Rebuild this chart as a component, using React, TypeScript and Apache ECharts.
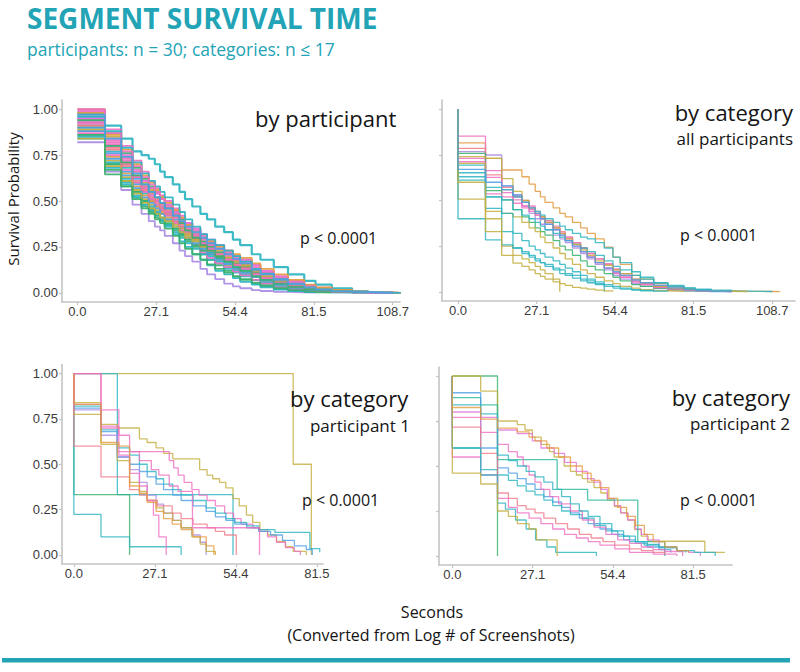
import React, { useEffect, useRef } from "react";
import * as echarts from "echarts";

// ---------- shared scales ----------
const TIMES = [0, 9.5, 15.1, 19.0, 22.1, 24.6, 26.7, 28.5, 30.1, 32.9, 35.2, 37.1, 39.6, 42.4, 44.7, 47.5, 50.6, 53.6, 56.1, 60.1, 63.1, 67.7, 72.6, 78.2, 82.1, 87.7, 94.7, 100.2, 108.8, 111.5];
const X_TICKS_LONG = [0, 27.175, 54.35, 81.525, 108.7];
const X_LABELS_LONG = ["0.0", "27.1", "54.4", "81.5", "108.7"];
const X_TICKS_SHORT = [0, 27.175, 54.35, 81.525];
const X_LABELS_SHORT = ["0.0", "27.1", "54.4", "81.5"];
const Y_TICKS = [0, 0.25, 0.5, 0.75, 1];
const Y_LABELS = ["0.00", "0.25", "0.50", "0.75", "1.00"];

// ---------- panel 1: by participant (survival at TIMES) ----------
const PARTICIPANTS: number[][] = [
  [0.98,0.91,0.84,0.77,0.75,0.73,0.70,0.66,0.63,0.59,0.55,0.51,0.47,0.43,0.40,0.36,0.33,0.29,0.26,0.21,0.18,0.14,0.10,0.065,0.045,0.025,0.01,0.003,0],
  [0.82,0.66,0.56,0.48,0.43,0.39,0.36,0.34,0.31,0.27,0.23,0.20,0.17,0.13,0.10,0.075,0.05,0.035,0.025,0.015,0.01,0.005,0.003,0.001,0],
  [1.0,0.85,0.74,0.66,0.60,0.56,0.52,0.49,0.46,0.42,0.38,0.35,0.31,0.28,0.26,0.23,0.21,0.18,0.16,0.12,0.10,0.075,0.05,0.03,0.02,0.01,0.004,0,0],
  [0.95,0.89,0.80,0.72,0.66,0.61,0.57,0.53,0.50,0.46,0.42,0.38,0.34,0.30,0.27,0.24,0.21,0.18,0.15,0.12,0.09,0.065,0.045,0.028,0.018,0.008,0.003,0],
  [0.90,0.645,0.58,0.52,0.47,0.44,0.41,0.39,0.37,0.34,0.31,0.28,0.25,0.21,0.18,0.15,0.12,0.09,0.07,0.05,0.035,0.02,0.012,0.005,0.002,0],
  [0.96,0.80,0.70,0.62,0.57,0.53,0.50,0.47,0.44,0.40,0.36,0.33,0.29,0.25,0.22,0.19,0.16,0.13,0.11,0.085,0.065,0.045,0.03,0.018,0.01,0.005,0],
  [0.93,0.77,0.68,0.60,0.54,0.50,0.47,0.45,0.42,0.38,0.35,0.32,0.28,0.25,0.22,0.19,0.17,0.14,0.12,0.09,0.07,0.05,0.03,0.02,0.012,0.006,0.002,0,0,0],
  [0.88,0.74,0.65,0.58,0.53,0.50,0.47,0.44,0.41,0.38,0.35,0.32,0.29,0.26,0.24,0.21,0.19,0.16,0.14,0.11,0.09,0.06,0.04,0.025,0.015,0.008,0.003,0],
  [0.92,0.83,0.72,0.64,0.58,0.55,0.52,0.49,0.46,0.43,0.40,0.37,0.33,0.30,0.27,0.24,0.22,0.19,0.17,0.14,0.11,0.08,0.055,0.035,0.022,0.012,0.005,0.001,0],
  [0.86,0.70,0.60,0.53,0.48,0.45,0.42,0.39,0.36,0.32,0.28,0.25,0.21,0.18,0.15,0.12,0.10,0.08,0.06,0.045,0.03,0.018,0.01,0.004,0],
  [0.94,0.79,0.70,0.63,0.58,0.54,0.51,0.48,0.45,0.41,0.37,0.34,0.30,0.27,0.25,0.22,0.20,0.17,0.15,0.12,0.10,0.07,0.05,0.03,0.02,0.01,0.004,0],
  [0.97,0.87,0.76,0.68,0.62,0.58,0.55,0.52,0.48,0.44,0.40,0.36,0.32,0.28,0.25,0.22,0.19,0.16,0.14,0.11,0.085,0.06,0.04,0.025,0.015,0.007,0.002,0,0],
  [0.85,0.68,0.59,0.52,0.48,0.45,0.42,0.40,0.37,0.33,0.30,0.27,0.24,0.21,0.18,0.16,0.13,0.11,0.09,0.07,0.05,0.035,0.02,0.01,0.005,0.002,0],
  [0.99,0.82,0.73,0.66,0.61,0.57,0.54,0.51,0.48,0.45,0.41,0.38,0.35,0.31,0.28,0.26,0.23,0.20,0.18,0.15,0.12,0.09,0.065,0.04,0.028,0.015,0.006,0.002,0,0],
  [0.89,0.72,0.63,0.56,0.51,0.48,0.45,0.43,0.40,0.37,0.34,0.31,0.28,0.24,0.21,0.18,0.15,0.13,0.11,0.085,0.065,0.045,0.03,0.02,0.012,0.006,0.002,0],
  [0.90,0.76,0.66,0.59,0.55,0.51,0.48,0.46,0.43,0.39,0.36,0.33,0.30,0.27,0.24,0.21,0.18,0.15,0.13,0.10,0.08,0.055,0.035,0.02,0.012,0.005,0],
  [0.95,0.84,0.75,0.67,0.61,0.57,0.54,0.51,0.48,0.44,0.41,0.38,0.35,0.32,0.29,0.26,0.23,0.20,0.18,0.15,0.12,0.09,0.06,0.04,0.025,0.012,0.004,0,0],
  [0.84,0.71,0.62,0.55,0.50,0.47,0.44,0.41,0.39,0.35,0.32,0.29,0.26,0.23,0.20,0.17,0.14,0.12,0.10,0.07,0.055,0.035,0.022,0.012,0.006,0.002,0],
  [0.87,0.75,0.67,0.60,0.55,0.51,0.48,0.45,0.42,0.38,0.34,0.30,0.26,0.22,0.19,0.16,0.14,0.115,0.095,0.07,0.05,0.03,0.018,0.01,0.005,0],
  [0.98,0.86,0.78,0.70,0.64,0.60,0.56,0.52,0.49,0.45,0.41,0.37,0.33,0.30,0.28,0.25,0.23,0.21,0.19,0.16,0.13,0.10,0.07,0.045,0.03,0.016,0.006,0.002,0,0],
  [0.91,0.70,0.61,0.55,0.50,0.46,0.43,0.41,0.38,0.35,0.32,0.29,0.26,0.23,0.21,0.19,0.17,0.15,0.13,0.10,0.08,0.06,0.045,0.03,0.02,0.01,0.004,0],
  [0.93,0.81,0.71,0.63,0.57,0.53,0.50,0.47,0.44,0.41,0.38,0.35,0.32,0.29,0.26,0.24,0.21,0.18,0.16,0.13,0.11,0.08,0.055,0.035,0.022,0.011,0.004,0,0],
  [0.88,0.73,0.64,0.57,0.52,0.49,0.46,0.43,0.40,0.36,0.33,0.30,0.27,0.24,0.21,0.18,0.155,0.13,0.11,0.085,0.065,0.045,0.028,0.016,0.008,0.003,0],
  [0.96,0.88,0.79,0.71,0.65,0.61,0.58,0.55,0.52,0.48,0.44,0.40,0.36,0.32,0.29,0.26,0.23,0.20,0.17,0.13,0.105,0.075,0.05,0.03,0.02,0.01,0.004,0.001,0,0],
  [0.84,0.69,0.61,0.54,0.49,0.46,0.43,0.41,0.39,0.36,0.33,0.30,0.28,0.25,0.23,0.21,0.19,0.17,0.15,0.12,0.09,0.065,0.045,0.03,0.02,0.01,0.004,0],
  [0.91,0.78,0.69,0.61,0.56,0.52,0.49,0.46,0.43,0.39,0.36,0.33,0.30,0.26,0.23,0.20,0.18,0.155,0.135,0.105,0.08,0.055,0.035,0.02,0.012,0.005,0],
  [0.86,0.67,0.58,0.51,0.46,0.43,0.40,0.38,0.35,0.31,0.27,0.24,0.21,0.18,0.155,0.13,0.11,0.09,0.075,0.055,0.04,0.025,0.015,0.008,0.003,0],
  [1.0,0.87,0.77,0.69,0.63,0.59,0.55,0.51,0.47,0.43,0.39,0.35,0.31,0.27,0.24,0.21,0.18,0.15,0.13,0.10,0.08,0.055,0.035,0.02,0.012,0.005,0.001,0],
  [0.94,0.80,0.71,0.64,0.59,0.55,0.52,0.49,0.46,0.42,0.38,0.34,0.30,0.26,0.23,0.20,0.17,0.14,0.12,0.09,0.07,0.05,0.032,0.02,0.012,0.006,0.002,0],
  [0.97,0.84,0.74,0.65,0.59,0.55,0.52,0.49,0.46,0.42,0.39,0.36,0.33,0.30,0.27,0.24,0.21,0.185,0.16,0.125,0.10,0.07,0.048,0.03,0.018,0.009,0.003,0,0],
];
const PARTICIPANT_COLORS = ["teal","lavender","olive","pink","green","blue","teal","orange","pink","teal","salmon","green","teal","pink","olive","blue","magenta","teal","pink","orange","green","pink","blue","teal","olive","salmon","green","pink","green","blue"];

// ---------- panel 2: by category, all participants (survival at TIMES) ----------
const CATEGORIES_ALL: number[][] = [
  [0.815,0.73,0.667,0.667,0.63,0.59,0.55,0.52,0.49,0.46,0.43,0.41,0.38,0.35,0.32,0.29,0.245,0.19,0.15,0.09,0.07,0.045,0.03,0.017,0.012,0.007,0.004,0.002,0.001,0.001],
  [0.852,0.663,0.558,0.53,0.50,0.47,0.44,0.41,0.38,0.35,0.32,0.29,0.26,0.22,0.19,0.16,0.13,0.10,0.08,0.055,0.04,0.025,0.015,0.008,0.005,0.002,0],
  [0.767,0.749,0.58,0.52,0.47,0.43,0.40,0.37,0.34,0.31,0.29,0.27,0.24,0.21,0.18,0.15,0.12,0.09,0.07,0.045,0.03,0.018,0.01,0.005,0.002,0],
  [0.785,0.64,0.572,0.52,0.49,0.46,0.43,0.41,0.39,0.36,0.33,0.30,0.27,0.24,0.21,0.18,0.15,0.12,0.09,0.06,0.045,0.03,0.018,0.01,0.005,0.002,0],
  [0.73,0.627,0.543,0.503,0.47,0.45,0.42,0.40,0.38,0.35,0.32,0.30,0.27,0.24,0.21,0.18,0.155,0.125,0.10,0.07,0.05,0.035,0.022,0.012,0.007,0.003,0],
  [0.758,0.554,0.503,0.45,0.41,0.38,0.35,0.33,0.31,0.28,0.25,0.23,0.20,0.17,0.14,0.12,0.10,0.08,0.06,0.04,0.03,0.02,0.012,0.006,0.003,0],
  [0.694,0.572,0.56,0.52,0.49,0.46,0.44,0.42,0.40,0.38,0.36,0.34,0.32,0.30,0.29,0.27,0.24,0.19,0.16,0.11,0.08,0.05,0.03,0.02,0.013,0.008,0.003],
  [0.712,0.536,0.52,0.485,0.46,0.44,0.42,0.40,0.37,0.34,0.31,0.28,0.25,0.22,0.19,0.16,0.13,0.105,0.08,0.055,0.04,0.025,0.015,0.008,0.004,0.001,0],
  [0.703,0.44,0.43,0.41,0.38,0.35,0.33,0.30,0.27,0.24,0.21,0.18,0.15,0.12,0.10,0.08,0.06,0.045,0.03,0.02,0.012,0.006,0.003,0],
  [0.652,0.52,0.503,0.45,0.42,0.40,0.38,0.36,0.34,0.32,0.30,0.28,0.26,0.24,0.22,0.20,0.17,0.14,0.12,0.09,0.07,0.05,0.035,0.022,0.014,0.008,0.004,0.002,0],
  [0.63,0.457,0.43,0.32,0.28,0.25,0.23,0.21,0.19,0.17,0.15,0.13,0.11,0.09,0.07,0.055,0.04,0.03,0.02,0.012,0.008,0.004,0],
  [0.612,0.52,0.33,0.24,0.22,0.20,0.18,0.16,0.14,0.12,0.10,0.09,0.075,0.06,0.05,0.04,0.03,0.02,0.015,0.01,0.005,0],
  [0.74,0.73,0.62,0.55,0.50,0.46,0.43,0.41,0.38,0.35,0.32,0.29,0.26,0.23,0.20,0.17,0.145,0.12,0.10,0.07,0.05,0.03,0.02,0.012,0.007,0.003,0.001,0],
  [0.507,0.40,0.25,0.20,0.18,0.16,0.14,0.12,0.10,0.07,0],
  [0.40,0.285,0.257,0.24,0.21,0.19,0.17,0.16,0.15,0.13,0.12,0.10,0.09,0.07,0.06,0.045,0],
  [0.60,0.33,0.20,0.157,0.14,0.12,0.10,0.085,0.07,0.055,0.045,0.035,0.025,0.02,0.015,0.01,0.005,0],
  [0.67,0.60,0.58,0.53,0.49,0.46,0.43,0.40,0.37,0.34,0.31,0.28,0.25,0.22,0.19,0.16,0.13,0.11,0.09,0.065,0.05,0.035,0.022,0.012,0.006,0.002,0],
];
const CATEGORY_ALL_COLORS = ["orange","pink","lavender","salmon","pink","green","teal","pink","olive","teal","teal","teal","olive","olive","teal","olive","blue"];

// ---------- panel 3: by category, participant 1 ([seconds, survival]) ----------
const PARTICIPANT1: number[][][] = [
  [[73.6,0.5],[79.7,0]],
  [[14.6,0.333],[53.4,0]],
  [[0,0.333],[18.7,0]],
  [[0,0.224],[9.1,0.10],[18.7,0.045],[36,0]],
  [[0,0.775],[9.1,0.72],[14.6,0.70],[22,0.64],[24.6,0.62],[27.6,0.59],[30.1,0.56],[33.2,0.53],[42.2,0.47],[44.7,0.44],[46.6,0.42],[48.9,0.40],[51,0.37],[53.4,0.31],[55.5,0.27],[57.9,0.22],[60,0.18],[62.4,0.14],[65,0.11],[68,0.075],[71,0.045],[73.6,0.02],[78,0]],
  [[9.1,0.70],[14.6,0.57],[32,0.52],[33.5,0.48],[35,0.44],[37,0.40],[39.6,0.36],[42,0.33],[44.7,0.30],[47.5,0.27],[50.6,0.23],[53.6,0.20],[56.1,0.17],[60.1,0.15],[62.3,0.13],[65,0.10],[68,0.07],[71,0.04],[74,0.02],[76,0]],
  [[0,0.82],[9.1,0.69],[14.6,0.59],[18.7,0.55],[22,0.50],[24.6,0.46],[27.6,0.42],[30.1,0.39],[33.2,0.36],[36,0.33],[40,0.30],[44.4,0.26],[47.5,0.23],[51,0.20],[54,0.18],[58,0.16],[62,0.14],[67.5,0.124],[79.2,0.035],[82.5,0.015]],
  [[0,0.81],[9.1,0.68],[14.6,0.54],[18.7,0.50],[22,0.46],[24.6,0.43],[27.6,0.39],[30.1,0.36],[33.2,0.33],[36,0.30],[40,0.27],[44.4,0.24],[47.5,0.21],[51,0.19],[54,0.17],[58,0.15],[62,0.13],[66,0.11],[70,0.08],[74,0.05],[78,0.03],[80,0]],
  [[0,0.80],[9.1,0.66],[14.6,0.54],[18.7,0.47],[22,0.40],[24.6,0.33],[27.6,0.28],[30.1,0.23],[33.2,0.19],[36,0.15],[39.6,0.11],[42.4,0.07],[44.4,0]],
  [[0,0.84],[9.1,0.61],[14.6,0.52],[18.7,0.40],[22,0.35],[24.6,0.30],[27.6,0.26],[30.1,0.23],[33.2,0.19],[36,0.15],[39.6,0.10],[42.4,0.06],[44.4,0.02],[47.5,0]],
  [[0,0.60],[9.1,0.43],[18.7,0.36],[22,0.33],[24.6,0.30],[28,0.27],[33,0.23],[36,0.20],[40,0.17],[44.7,0.15],[47.5,0.13],[50.6,0.11],[54.5,0]],
  [[9.1,0.80],[15.1,0.66],[18.7,0.57],[22,0.52],[26,0.47],[28.5,0.44],[32,0.38],[35,0.35],[39.8,0.15],[62.3,0]],
  [[0,0.83],[9.1,0.71],[15.1,0.55],[18.7,0.45],[22,0.38],[24.6,0.30],[26.7,0.22],[28.5,0.10],[31,0]],
  [[0,0.83],[9.1,0.62],[15.1,0.60],[18.7,0.38],[22,0.34],[24.6,0.29],[27.6,0.24],[30.1,0.20],[33,0.17],[36,0.14],[40,0.10],[44.4,0.05],[47,0]],
];
const PARTICIPANT1_COLORS = ["olive","teal","green","teal","olive","pink","teal","blue","lavender","olive","salmon","pink","pink","orange"];

// ---------- panel 4: by category, participant 2 ([seconds, survival]) ----------
const PARTICIPANT2: number[][][] = [
  [[15.3,0]],
  [[9.6,0.916],[15.3,0.75],[22,0.73],[24.6,0.70],[27.1,0.66],[30.1,0.62],[32.9,0.58],[34.5,0.55],[37.9,0.50],[40,0.47],[42,0.45],[44,0.43],[45.8,0.41],[48,0.38],[50.3,0.35],[52.5,0.31],[54.9,0.275],[57,0.24],[59.4,0.20],[61.7,0.147],[64,0.11],[66.3,0.082],[85.5,0.02],[92.3,0.02]],
  [[0,0.80],[9.6,0.77],[15.3,0.70],[22,0.68],[27.1,0.64],[30,0.60],[34.5,0.57],[38,0.52],[42,0.47],[45.8,0.43],[48,0.41],[50.3,0.37],[52.5,0.32],[54.9,0.28],[57,0.24],[59.4,0.20],[62,0.15],[64,0.12],[66,0.09],[70,0.05],[76,0.03],[80,0.02],[84,0]],
  [[0,0.88],[9.6,0.84],[15.3,0.535],[35.5,0.37],[45.8,0.31],[62.8,0.08],[71.9,0]],
  [[0,0.907],[9.6,0.60],[15.3,0.49],[19,0.46],[22,0.43],[25,0.40],[28,0.37],[31,0.33],[34,0.30],[37,0.27],[40,0.24],[43,0.21],[46,0.18],[50,0.15],[54,0.12],[58,0.09],[62,0.07],[66,0.05],[70,0.035],[74,0.02]],
  [[0,0.60],[9.6,0.48],[15.3,0.45],[19,0.42],[22,0.39],[25,0.36],[28,0.34],[31,0.31],[34,0.28],[37,0.25],[40,0.23],[44,0.21],[48,0.17],[52,0.14],[56,0.11],[60,0.08],[65,0.06],[70,0.045],[76,0.03],[79,0.02]],
  [[0,0.77],[9.6,0.687],[15.3,0.62],[19,0.58],[22,0.55],[24,0.50],[26,0.45],[28,0.41],[30,0.37],[33,0.33],[36,0.29],[40,0.25],[44,0.20],[48,0.16],[52,0.12],[56,0.09],[60,0.07],[64,0.05],[68,0.035],[72,0.025],[78,0]],
  [[0,0.716],[9.6,0.57],[15.3,0.35],[19,0.32],[22,0.28],[25,0.26],[28,0.24],[31,0.21],[35,0.18],[39,0.15],[43,0.12],[47,0.10],[51,0.08],[55,0.06],[60,0.04],[64,0.03],[68,0.02],[72,0.01]],
  [[0,0.55],[9.6,0.45],[15.3,0.32],[19,0.27],[22,0.24],[26,0.21],[30,0.18],[34,0.15],[38,0.12],[42,0.10],[46,0.08],[50,0.06],[55,0.04],[60,0.02],[68,0.01],[76,0]],
  [[0,0.60],[9.6,0.45],[15.3,0.294],[18,0.26],[21.4,0.20],[25,0.15],[28.2,0.09],[32,0.05],[35,0.02],[48.8,0]],
  [[0,0.46],[9.6,0.40],[15.3,0.25],[19,0.22],[22,0.18],[26,0.15],[28.5,0.09],[35.5,0]],
  [[0,0.84],[9.6,0.79],[15.3,0.56],[19,0.53],[22,0.50],[25,0.47],[28,0.44],[31,0.41],[34,0.37],[37,0.33],[40,0.29],[43,0.25],[46,0.22],[50,0.18],[54,0.14],[58,0.11],[62,0.08],[66,0.065],[70,0.05],[76,0.03],[82,0.02],[89,0]],
  [[0,0.825],[9.6,0.76],[15.3,0.71],[22,0.69],[26,0.66],[28,0.64],[32,0.60],[36,0.55],[40,0.50],[44,0.46],[47,0.42],[50,0.38],[53,0.32],[56,0.27],[59,0.22],[62,0.17],[65,0.12],[68,0.08],[72,0.05],[76,0.03],[80,0.02]],
];
const PARTICIPANT2_COLORS = ["green","olive","magenta","mint","blue","teal","pink","salmon","pink","teal","olive","teal","orange"];

// ---------- styling ----------
const PALETTE: Record<string, string> = {
  teal: "#2bb4c1", pink: "#ee6fc0", olive: "#c3ae3d", green: "#37b06c", blue: "#4d9fe4",
  lavender: "#a98be4", orange: "#e39b3f", salmon: "#f07b88", mint: "#2bb89a", magenta: "#e272dc",
};
const TEAL_TITLE = "#22a4b6";
const FONT = "'Open Sans', 'Noto Sans', sans-serif";
const TICK_FONT = "'Liberation Sans', Arial, sans-serif";

function labelFor(ticks: number[], labels: string[]) {
  return (v: number) => {
    for (let i = 0; i < ticks.length; i++) if (Math.abs(ticks[i] - v) < 1e-6) return labels[i];
    return "";
  };
}

export default function App() {
  const ref = useRef<HTMLDivElement>(null);
  useEffect(() => {
    if (!ref.current) return;
    const chart = echarts.init(ref.current, undefined, { renderer: "svg" });

    const grids = [
      { left: 62, top: 100, width: 338, height: 202 },
      { left: 442, top: 100, width: 353, height: 201 },
      { left: 62, top: 364.5, width: 261, height: 199.5 },
      { left: 439, top: 367, width: 293, height: 198 },
    ];
    const xRanges = [[-5.3, 111.2], [-5.55, 116.6], [-3.98, 83.6], [-4.51, 94.7]];
    const xTickSets = [
      [X_TICKS_LONG, X_LABELS_LONG], [X_TICKS_LONG, X_LABELS_LONG],
      [X_TICKS_SHORT, X_LABELS_SHORT], [X_TICKS_SHORT, X_LABELS_SHORT],
    ] as [number[], string[]][];
    const axisLine = { show: true, onZero: false, lineStyle: { color: "#c4c4c4", width: 1.6 } };
    const tickLine = { lineStyle: { color: "#c4c4c4", width: 1.2 } };

    const xAxis = grids.map((_, i) => ({
      type: "value", gridIndex: i, min: xRanges[i][0], max: xRanges[i][1],
      axisLine,
      axisTick: { show: true, length: 3, customValues: xTickSets[i][0], ...tickLine },
      axisLabel: {
        customValues: xTickSets[i][0], formatter: labelFor(xTickSets[i][0], xTickSets[i][1]),
        fontFamily: TICK_FONT, fontSize: 13, color: "#3a3a3a", margin: 3,
      },
      splitLine: { show: false },
    }));
    const yAxis = grids.map((_, i) => ({
      type: "value", gridIndex: i, min: -0.05, max: 1.05,
      axisLine,
      axisTick: { show: true, length: 3, customValues: Y_TICKS, ...tickLine },
      axisLabel: {
        show: i === 0 || i === 2, customValues: Y_TICKS, formatter: labelFor(Y_TICKS, Y_LABELS),
        fontFamily: TICK_FONT, fontSize: 13, color: "#3a3a3a", margin: 4,
      },
      splitLine: { show: false },
    }));

    const series: any[] = [];
    const mk = (idx: number, data: number[][], color: string, width: number, opacity: number) => ({
      type: "line", xAxisIndex: idx, yAxisIndex: idx, data, step: "end", symbol: "none",
      silent: true, lineStyle: { color: PALETTE[color], width, opacity }, z: 2,
    });
    PARTICIPANTS.forEach((s, k) => {
      series.push(mk(0, s.map((v, i) => [TIMES[i], v]), PARTICIPANT_COLORS[k], k === 0 ? 2.2 : 1.8, 0.92));
    });
    CATEGORIES_ALL.forEach((s, k) => {
      series.push(mk(1, [[0, 1], ...s.map((v, i) => [TIMES[i], v])], CATEGORY_ALL_COLORS[k], 1.3, 0.85));
    });
    PARTICIPANT1.forEach((c, k) => {
      series.push(mk(2, [[0, 1], ...c], PARTICIPANT1_COLORS[k], 1.3, 0.8));
    });
    PARTICIPANT2.forEach((c, k) => {
      series.push(mk(3, [[0, 1], ...c], PARTICIPANT2_COLORS[k], 1.3, 0.8));
    });

    const txt = (text: string, x: number, y: number, size: number, opts: any = {}) => ({
      type: "text", x, y, rotation: opts.rotation || 0, z: 10,
      style: {
        text, font: `${opts.weight || "normal"} ${size}px ${FONT}`, fill: opts.fill || "#141414",
        align: opts.align || "left", textAlign: opts.align || "left",
        verticalAlign: "middle", textVerticalAlign: "middle",
      },
    });

    chart.setOption({
      animation: false,
      backgroundColor: "#ffffff",
      grid: grids,
      xAxis, yAxis, series,
      graphic: [
        txt("SEGMENT SURVIVAL TIME", 27, 18, 28, { weight: "bold", fill: TEAL_TITLE }),
        txt("participants: n = 30; categories: n ≤ 17", 27, 48.5, 17.5, { fill: TEAL_TITLE }),
        txt("Survival Probability", 13, 199, 15, { rotation: Math.PI / 2, align: "center" }),
        txt("by participant", 255, 118, 22),
        txt("p < 0.0001", 300, 238, 16),
        txt("by category", 793, 112, 22, { align: "right" }),
        txt("all participants", 793, 138, 17, { align: "right" }),
        txt("p < 0.0001", 680, 235, 16),
        txt("by category", 290, 398, 22),
        txt("participant 1", 410, 425, 17, { align: "right" }),
        txt("p < 0.0001", 302, 500, 16),
        txt("by category", 790, 397, 22, { align: "right" }),
        txt("participant 2", 790, 423, 17, { align: "right" }),
        txt("p < 0.0001", 680, 500, 16),
        txt("Seconds", 432, 612, 16, { align: "center" }),
        txt("(Converted from Log # of Screenshots)", 431, 635, 16, { align: "center" }),
        { type: "rect", shape: { x: 2, y: 658, width: 788, height: 4.5 }, style: { fill: TEAL_TITLE }, z: 10 },
      ],
    });
    return () => chart.dispose();
  }, []);
  return <div ref={ref} style={{ position: "absolute", left: 0, top: 0, width: 800, height: 672, background: "#fff" }} />;
}
